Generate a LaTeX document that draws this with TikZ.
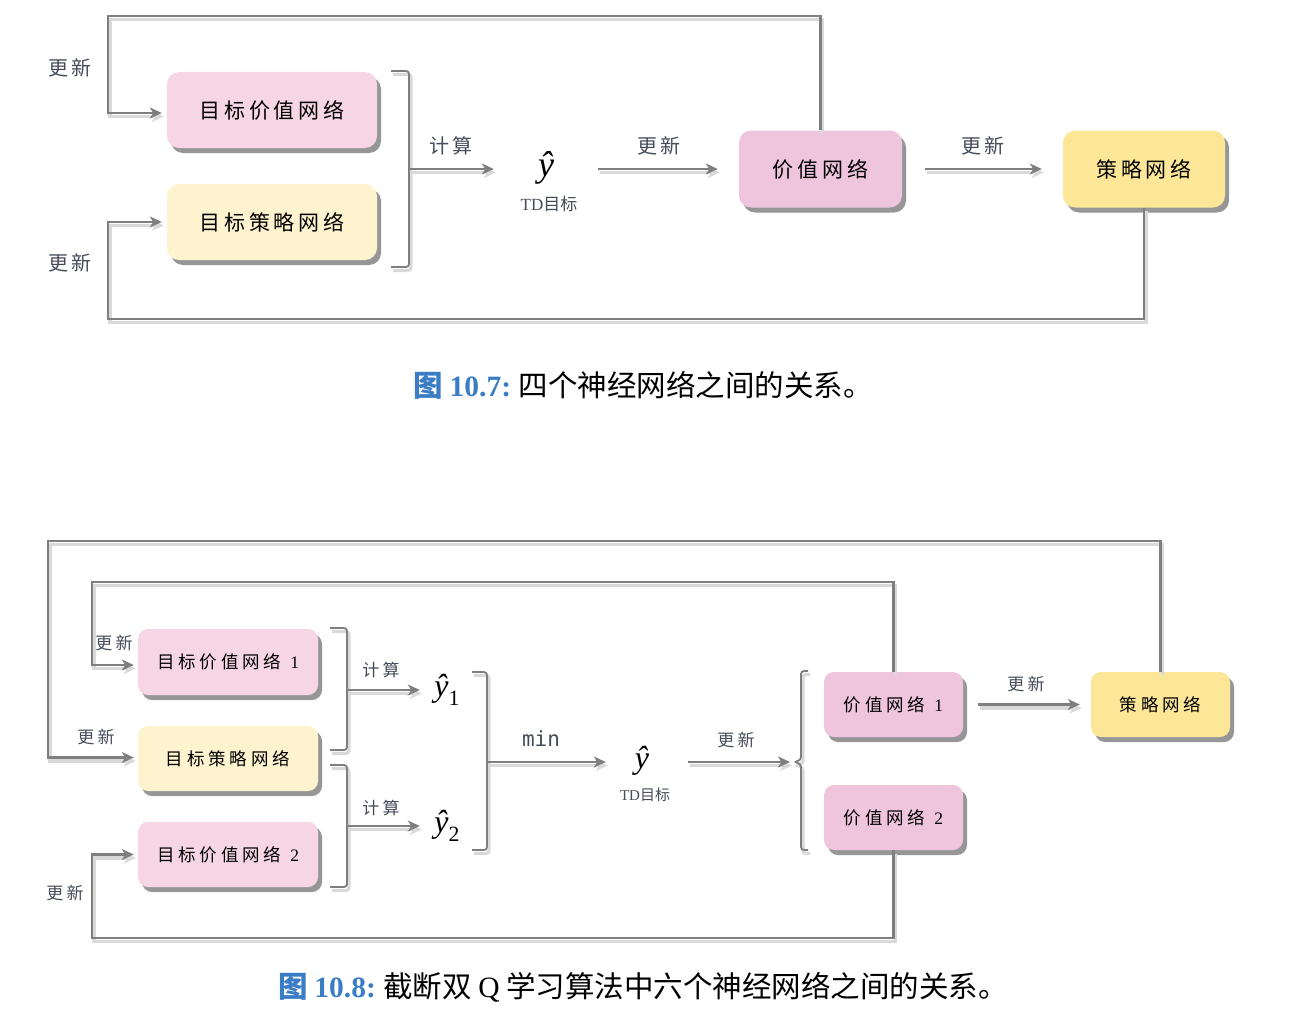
\documentclass[tikz,border=0pt]{standalone}
\usepackage{fontspec}
\setmainfont{Liberation Serif}
\newfontfamily\cjk{Noto Sans CJK SC}
\newfontfamily\cjkspaced[LetterSpace=18]{Noto Sans CJK SC}
\newfontfamily\cjkwide[LetterSpace=22]{Noto Sans CJK SC}
\newfontfamily\monofont{DejaVu Sans Mono}
\usetikzlibrary{arrows.meta,shadows}

\definecolor{tvpink}{HTML}{F6D6E5}
\definecolor{tpyellow}{HTML}{FDF3CF}
\definecolor{vpink}{HTML}{EEC5DD}
\definecolor{pyellow}{HTML}{FCE698}
\definecolor{linegray}{HTML}{7F7F7F}
\definecolor{labelc}{HTML}{454B58}
\definecolor{capblue}{HTML}{3B7DC4}

% estimate symbol with optional index
\newcommand{\yest}[1]{{\itshape ŷ}\raisebox{-0.28em}{\fontsize{0.68em}{1em}\selectfont #1}}

\tikzset{
  net/.style={rounded corners=12pt, inner sep=0pt, text=black,
    drop shadow={shadow xshift=4pt, shadow yshift=-5pt, fill=black!75, opacity=0.55}},
  bignet/.style={net, font=\cjkspaced\fontsize{21}{24}\selectfont},
  smallnet/.style={net, rounded corners=10pt, font=\cjkwide\fontsize{17.5}{20}\selectfont},
  conn/.style={draw=linegray, line width=2.5pt,
    preaction={draw=black!15, line width=3.2pt, transform canvas={shift={(2pt,-3.5pt)}}}},
  arr/.style={conn, -{Stealth[length=12pt,width=11pt,inset=3.5pt]}},
  brace/.style={conn, line width=1.8pt, rounded corners=3pt},
  lbl/.style={inner sep=0pt, text=labelc},
  biglbl/.style={lbl, font=\cjkspaced\fontsize{20}{23}\selectfont},
  smalllbl/.style={lbl, font=\cjkspaced\fontsize{17}{20}\selectfont},
  tdlbl/.style={lbl, font=\cjk\fontsize{17}{20}\selectfont},
  target/.style={inner sep=0pt, text=black},
  caption/.style={inner sep=0pt, font=\fontsize{29.5}{33}\selectfont},
}

\begin{document}
\begin{tikzpicture}[x=1pt,y=-1pt]
\useasboundingbox (0,0) rectangle (1314,1033);

% ---------------- four networks ----------------
\node[bignet, fill=tvpink, minimum width=210pt, minimum height=76pt] (tv) at (272,110) {目标价值网络};
\node[bignet, fill=tpyellow, minimum width=210pt, minimum height=76pt] (tp) at (272,222) {目标策略网络};
\node[bignet, fill=vpink, minimum width=163pt, minimum height=77pt] (v) at (820.5,169) {价值网络};
\node[bignet, fill=pyellow, minimum width=162pt, minimum height=77pt] (p) at (1144,169) {策略网络};

\node[target, minimum width=104pt, font=\fontsize{36}{40}\selectfont] (yh) at (546,169) {\yest{}};
\node[tdlbl] (td) at (549,204) {{\rmfamily TD}目标};

% brace collecting the two target networks
\coordinate (bt) at (409,169);
\draw[brace] (391,71) -| (bt) |- (391,267);

\draw[arr] (bt) -- (yh.west);
\draw[arr] (yh.east) -- ([xshift=-21pt]v.west);
\draw[arr] ([xshift=23pt]v.east) -- ([xshift=-21pt]p.west);

\node[biglbl] (l1) at (451,146) {计算};
\node[biglbl] (l2) at (659,146) {更新};
\node[biglbl] (l3) at (983,146) {更新};

% feedback loops
\coordinate (tl) at (108,16);
\coordinate (bl) at (108,319);
\draw[arr] (v.north) |- (tl) |- ([xshift=-5pt,yshift=-3pt]tv.west);
\draw[arr] (p.south) |- (bl) |- ([xshift=-5pt]tp.west);
\node[biglbl] (l4) at (70,68) {更新};
\node[biglbl] (l5) at (70,263) {更新};

\node[caption] (cap1) at (643,385)
  {{\color{capblue}\cjk\bfseries 图\ \rmfamily\bfseries 10.7:}\ \cjk 四个神经网络之间的关系。};

% ---------------- six networks ----------------
\node[smallnet, fill=tvpink, minimum width=180pt, minimum height=66pt] (tva) at (228,662) {目标价值网络\hspace{9pt}{\rmfamily 1}};
\node[smallnet, fill=tpyellow, minimum width=180pt, minimum height=65pt] (tpb) at (228,758.5) {目标策略网络};
\node[smallnet, fill=tvpink, minimum width=180pt, minimum height=65pt] (tvc) at (228,854.5) {目标价值网络\hspace{9pt}{\rmfamily 2}};
\node[smallnet, fill=vpink, minimum width=139pt, minimum height=65pt] (va) at (893.5,704.5) {价值网络\hspace{9pt}{\rmfamily 1}};
\node[smallnet, fill=vpink, minimum width=139pt, minimum height=65pt] (vb) at (893.5,817.5) {价值网络\hspace{9pt}{\rmfamily 2}};
\node[smallnet, fill=pyellow, minimum width=139pt, minimum height=65pt] (pb) at (1160.5,704.5) {策略网络};

\node[target, minimum width=54pt, font=\fontsize{32}{36}\selectfont] (ya) at (447,690) {\yest{1}};
\node[target, minimum width=54pt, font=\fontsize{32}{36}\selectfont] (yb) at (447,826) {\yest{2}};
\node[target, minimum width=72pt, font=\fontsize{32}{36}\selectfont] (yc) at (642,762) {\yest{}};
\node[tdlbl, font=\cjk\fontsize{15}{18}\selectfont] (td2) at (645,795) {{\rmfamily TD}目标};

% braces
\coordinate (ba) at (347,690);
\coordinate (bb) at (347,826);
\coordinate (bc) at (487,762);
\coordinate (bd) at (794,762);
\draw[brace] (330,628) -| (ba) |- (330,750);
\draw[brace] (330,765) -| (bb) |- (330,887);
\draw[brace] (472,672) -| (bc) |- (472,850);
\draw[brace] (808,671) -| (801,760) -- (bd) -- (801,764) |- (808,850);

\draw[arr] (ba) -- (ya.west);
\draw[arr] (bb) -- (yb.west);
\draw[arr] (bc) -- (yc.west);
\draw[arr] ([xshift=10pt]yc.east) -- ([xshift=-4pt]bd);
\draw[arr] ([xshift=15pt]va.east) -- ([xshift=-11pt]pb.west);

\node[smalllbl] (m1) at (381,670) {计算};
\node[smalllbl] (m2) at (381,808) {计算};
\node[lbl, font=\monofont\fontsize{21}{24}\selectfont] (m3) at (541,739) {min};
\node[smalllbl] (m4) at (736,740) {更新};
\node[smalllbl] (m5) at (1026,684) {更新};

% feedback loops
\coordinate (ot) at (48,541);
\coordinate (it) at (92,582);
\coordinate (ob) at (92,938);
\draw[arr] (pb.north) |- (ot) |- ([xshift=-4pt,yshift=1pt]tpb.west);
\draw[arr] (va.north) |- (it) |- ([xshift=-4pt,yshift=-3pt]tva.west);
\draw[arr] (vb.south) |- (ob) |- ([xshift=-4pt]tvc.west);
\node[smalllbl] (m6) at (114,643) {更新};
\node[smalllbl] (m7) at (96,737) {更新};
\node[smalllbl] (m8) at (65,893) {更新};

\node[caption] (cap2) at (643,987)
  {{\color{capblue}\cjk\bfseries 图\ \rmfamily\bfseries 10.8:}\ \cjk 截断双\ {\rmfamily Q}\ 学习算法中六个神经网络之间的关系。};
\end{tikzpicture}
\end{document}
